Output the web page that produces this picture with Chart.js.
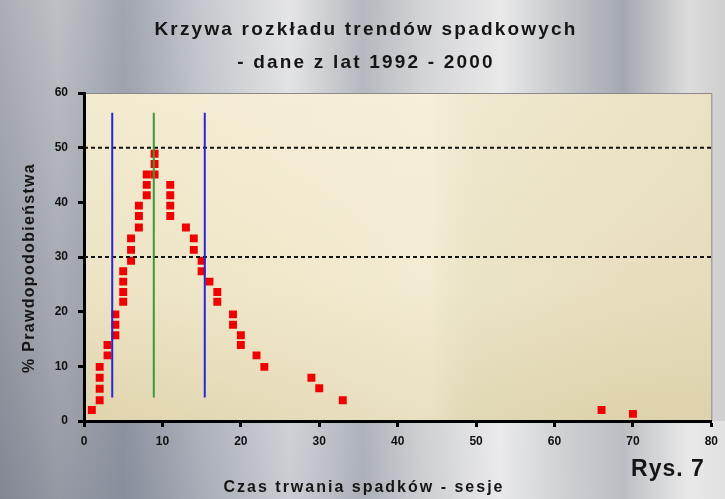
<!DOCTYPE html>
<html>
<head>
<meta charset="utf-8">
<script src="https://cdn.jsdelivr.net/npm/chart.js@4"></script>
<style>
  html, body { margin: 0; padding: 0; background: #c8c8c8; }
  #wrap { width: 725px; height: 499px; }
</style>
</head>
<body>
<div id="wrap"><canvas id="chart" width="725" height="499"></canvas></div>
<script>
// czas trwania spadku (sesje) i prawdopodobieństwo (%)
const sessions = [1, 2, 2, 2, 2, 3, 3, 4, 4, 4, 5, 5, 5, 5, 6, 6, 6, 7, 7, 7, 8, 8, 8, 9, 9, 9,
  11, 11, 11, 11, 13, 14, 14, 15, 15, 16, 17, 17, 19, 19, 20, 20, 22, 23, 29, 30, 33, 66, 70];
const probability = [2, 3.8, 5.9, 7.9, 9.9, 12, 13.9, 15.7, 17.6, 19.5, 21.8, 23.6, 25.5, 27.4,
  29.3, 31.3, 33.4, 35.4, 37.5, 39.4, 41.3, 43.2, 45.1, 45.1, 47, 48.9,
  43.2, 41.3, 39.4, 37.5, 35.4, 33.4, 31.3, 29.3, 27.4, 25.5, 23.6, 21.8,
  19.5, 17.6, 15.7, 13.9, 12, 9.9, 7.9, 6, 3.8, 2, 1.3];

// linie pionowe (granice i środek) oraz poziome linie przerywane
const markerX = [3.6, 8.9, 15.4];
const markerColors = ['#2626d8', '#3a9a3a', '#2626d8'];
const markerRange = [4.3, 56.4];
const levelY = [50, 30];

const xTicks = [0, 10, 20, 30, 40, 50, 60, 70, 80];
const yTicks = [0, 10, 20, 30, 40, 50, 60];

const points = sessions.map((s, i) => ({ x: s, y: probability[i] }));

const lineSets = [];
markerX.forEach((mx, i) => {
  lineSets.push({
    data: [{ x: mx, y: markerRange[0] }, { x: mx, y: markerRange[1] }],
    showLine: true, borderColor: markerColors[i], borderWidth: 2, pointRadius: 0
  });
});
levelY.forEach(ly => {
  lineSets.push({
    data: [{ x: xTicks[0], y: ly }, { x: xTicks[xTicks.length - 1], y: ly }],
    showLine: true, borderColor: '#111', borderWidth: 2, borderDash: [4, 3], pointRadius: 0
  });
});

const background = {
  id: 'background',
  beforeDraw(chart) {
    const ctx = chart.ctx, w = chart.width, h = chart.height, a = chart.chartArea;
    ctx.save();
    // metaliczne tło
    let g = ctx.createLinearGradient(0, 0, w, 0);
    [[0, '#cacaca'], [0.08, '#d8d8d8'], [0.17, '#a9adb5'], [0.27, '#c9ccd1'], [0.4, '#e6e6e8'],
     [0.5, '#b3b7be'], [0.58, '#d2d3d6'], [0.69, '#e9e9ea'], [0.78, '#c2c5ca'], [0.86, '#a4a8b0'],
     [0.95, '#dcdcdc'], [1, '#cfcfd0']].forEach(s => g.addColorStop(s[0], s[1]));
    ctx.fillStyle = g;
    ctx.fillRect(0, 0, w, h);
    g = ctx.createLinearGradient(0, h, w * 0.7, h * 0.55);
    g.addColorStop(0, 'rgba(80,90,110,0.6)');
    g.addColorStop(0.6, 'rgba(120,130,150,0.15)');
    g.addColorStop(1, 'rgba(255,255,255,0)');
    ctx.fillStyle = g;
    ctx.fillRect(0, 0, w, h);
    g = ctx.createLinearGradient(w * 0.6, 0, w, 0);
    g.addColorStop(0, 'rgba(255,255,255,0)');
    g.addColorStop(1, 'rgba(255,255,255,0.4)');
    ctx.fillStyle = g;
    ctx.fillRect(0, a.bottom, w, h - a.bottom);
    // obszar wykresu
    g = ctx.createLinearGradient(0, a.top, 0, a.bottom);
    g.addColorStop(0, '#f3ead0');
    g.addColorStop(0.6, '#ede3c4');
    g.addColorStop(1, '#e0d4ae');
    ctx.fillStyle = g;
    ctx.fillRect(a.left, a.top, a.right - a.left, a.bottom - a.top);
    g = ctx.createLinearGradient(a.left, 0, a.right, 0);
    g.addColorStop(0, 'rgba(255,250,230,0)');
    g.addColorStop(0.55, 'rgba(255,252,240,0.3)');
    g.addColorStop(0.62, 'rgba(225,228,205,0.2)');
    g.addColorStop(0.85, 'rgba(215,205,170,0.2)');
    g.addColorStop(1, 'rgba(215,205,170,0.3)');
    ctx.fillStyle = g;
    ctx.fillRect(a.left, a.top, a.right - a.left, a.bottom - a.top);
    ctx.strokeStyle = '#8a8a8a';
    ctx.lineWidth = 1;
    ctx.beginPath();
    ctx.moveTo(a.left, a.top + 0.5);
    ctx.lineTo(a.right + 0.5, a.top + 0.5);
    ctx.lineTo(a.right + 0.5, a.bottom);
    ctx.stroke();
    ctx.restore();
  }
};

const texts = {
  id: 'texts',
  afterDraw(chart) {
    const ctx = chart.ctx;
    ctx.save();
    ctx.fillStyle = '#151515';
    ctx.textAlign = 'center';
    ctx.textBaseline = 'middle';
    ctx.letterSpacing = '2.2px';
    ctx.font = 'bold 19px "Liberation Sans", Arial, sans-serif';
    ctx.fillText('Krzywa rozkładu trendów spadkowych', 366, 30);
    ctx.fillText('- dane z lat 1992 - 2000', 366, 63);
    ctx.letterSpacing = '2px';
    ctx.font = 'bold 16px "Liberation Sans", Arial, sans-serif';
    ctx.fillText('Czas trwania spadków - sesje', 364, 488);
    ctx.save();
    ctx.translate(30, 268);
    ctx.rotate(-Math.PI / 2);
    ctx.letterSpacing = '1.3px';
    ctx.fillText('% Prawdopodobieństwa', 0, 0);
    ctx.restore();
    ctx.letterSpacing = '1px';
    ctx.font = 'bold 23px "Liberation Sans", Arial, sans-serif';
    ctx.fillText('Rys. 7', 668, 470);
    ctx.restore();
  }
};

new Chart(document.getElementById('chart'), {
  type: 'scatter',
  data: {
    datasets: [
      ...lineSets,
      {
        data: points,
        pointStyle: 'rect',
        pointRadius: 5.6,
        pointBorderWidth: 0,
        backgroundColor: '#f00000',
        borderColor: '#f00000'
      }
    ]
  },
  options: {
    responsive: false,
    animation: false,
    layout: { padding: { top: 93, right: 10, left: 0, bottom: 0 } },
    plugins: { legend: { display: false }, tooltip: { enabled: false } },
    scales: {
      x: {
        min: xTicks[0], max: xTicks[xTicks.length - 1],
        afterFit: s => { s.height = 78; },
        afterBuildTicks: s => { s.ticks = xTicks.map(v => ({ value: v })); },
        grid: { drawOnChartArea: false, drawTicks: true, tickLength: 6, tickWidth: 3, color: '#000' },
        border: { display: true, width: 3, color: '#000' },
        ticks: { padding: 7, color: '#111', font: { family: '"Liberation Sans", Arial', size: 12, weight: 'bold' } }
      },
      y: {
        min: yTicks[0], max: yTicks[yTicks.length - 1],
        afterFit: s => { s.width = 84; },
        afterBuildTicks: s => { s.ticks = yTicks.map(v => ({ value: v })); },
        grid: { drawOnChartArea: false, drawTicks: true, tickLength: 6, tickWidth: 3, color: '#000' },
        border: { display: true, width: 3, color: '#000' },
        ticks: { padding: 10, color: '#111', font: { family: '"Liberation Sans", Arial', size: 12, weight: 'bold' } }
      }
    }
  },
  plugins: [background, texts]
});
</script>
</body>
</html>
